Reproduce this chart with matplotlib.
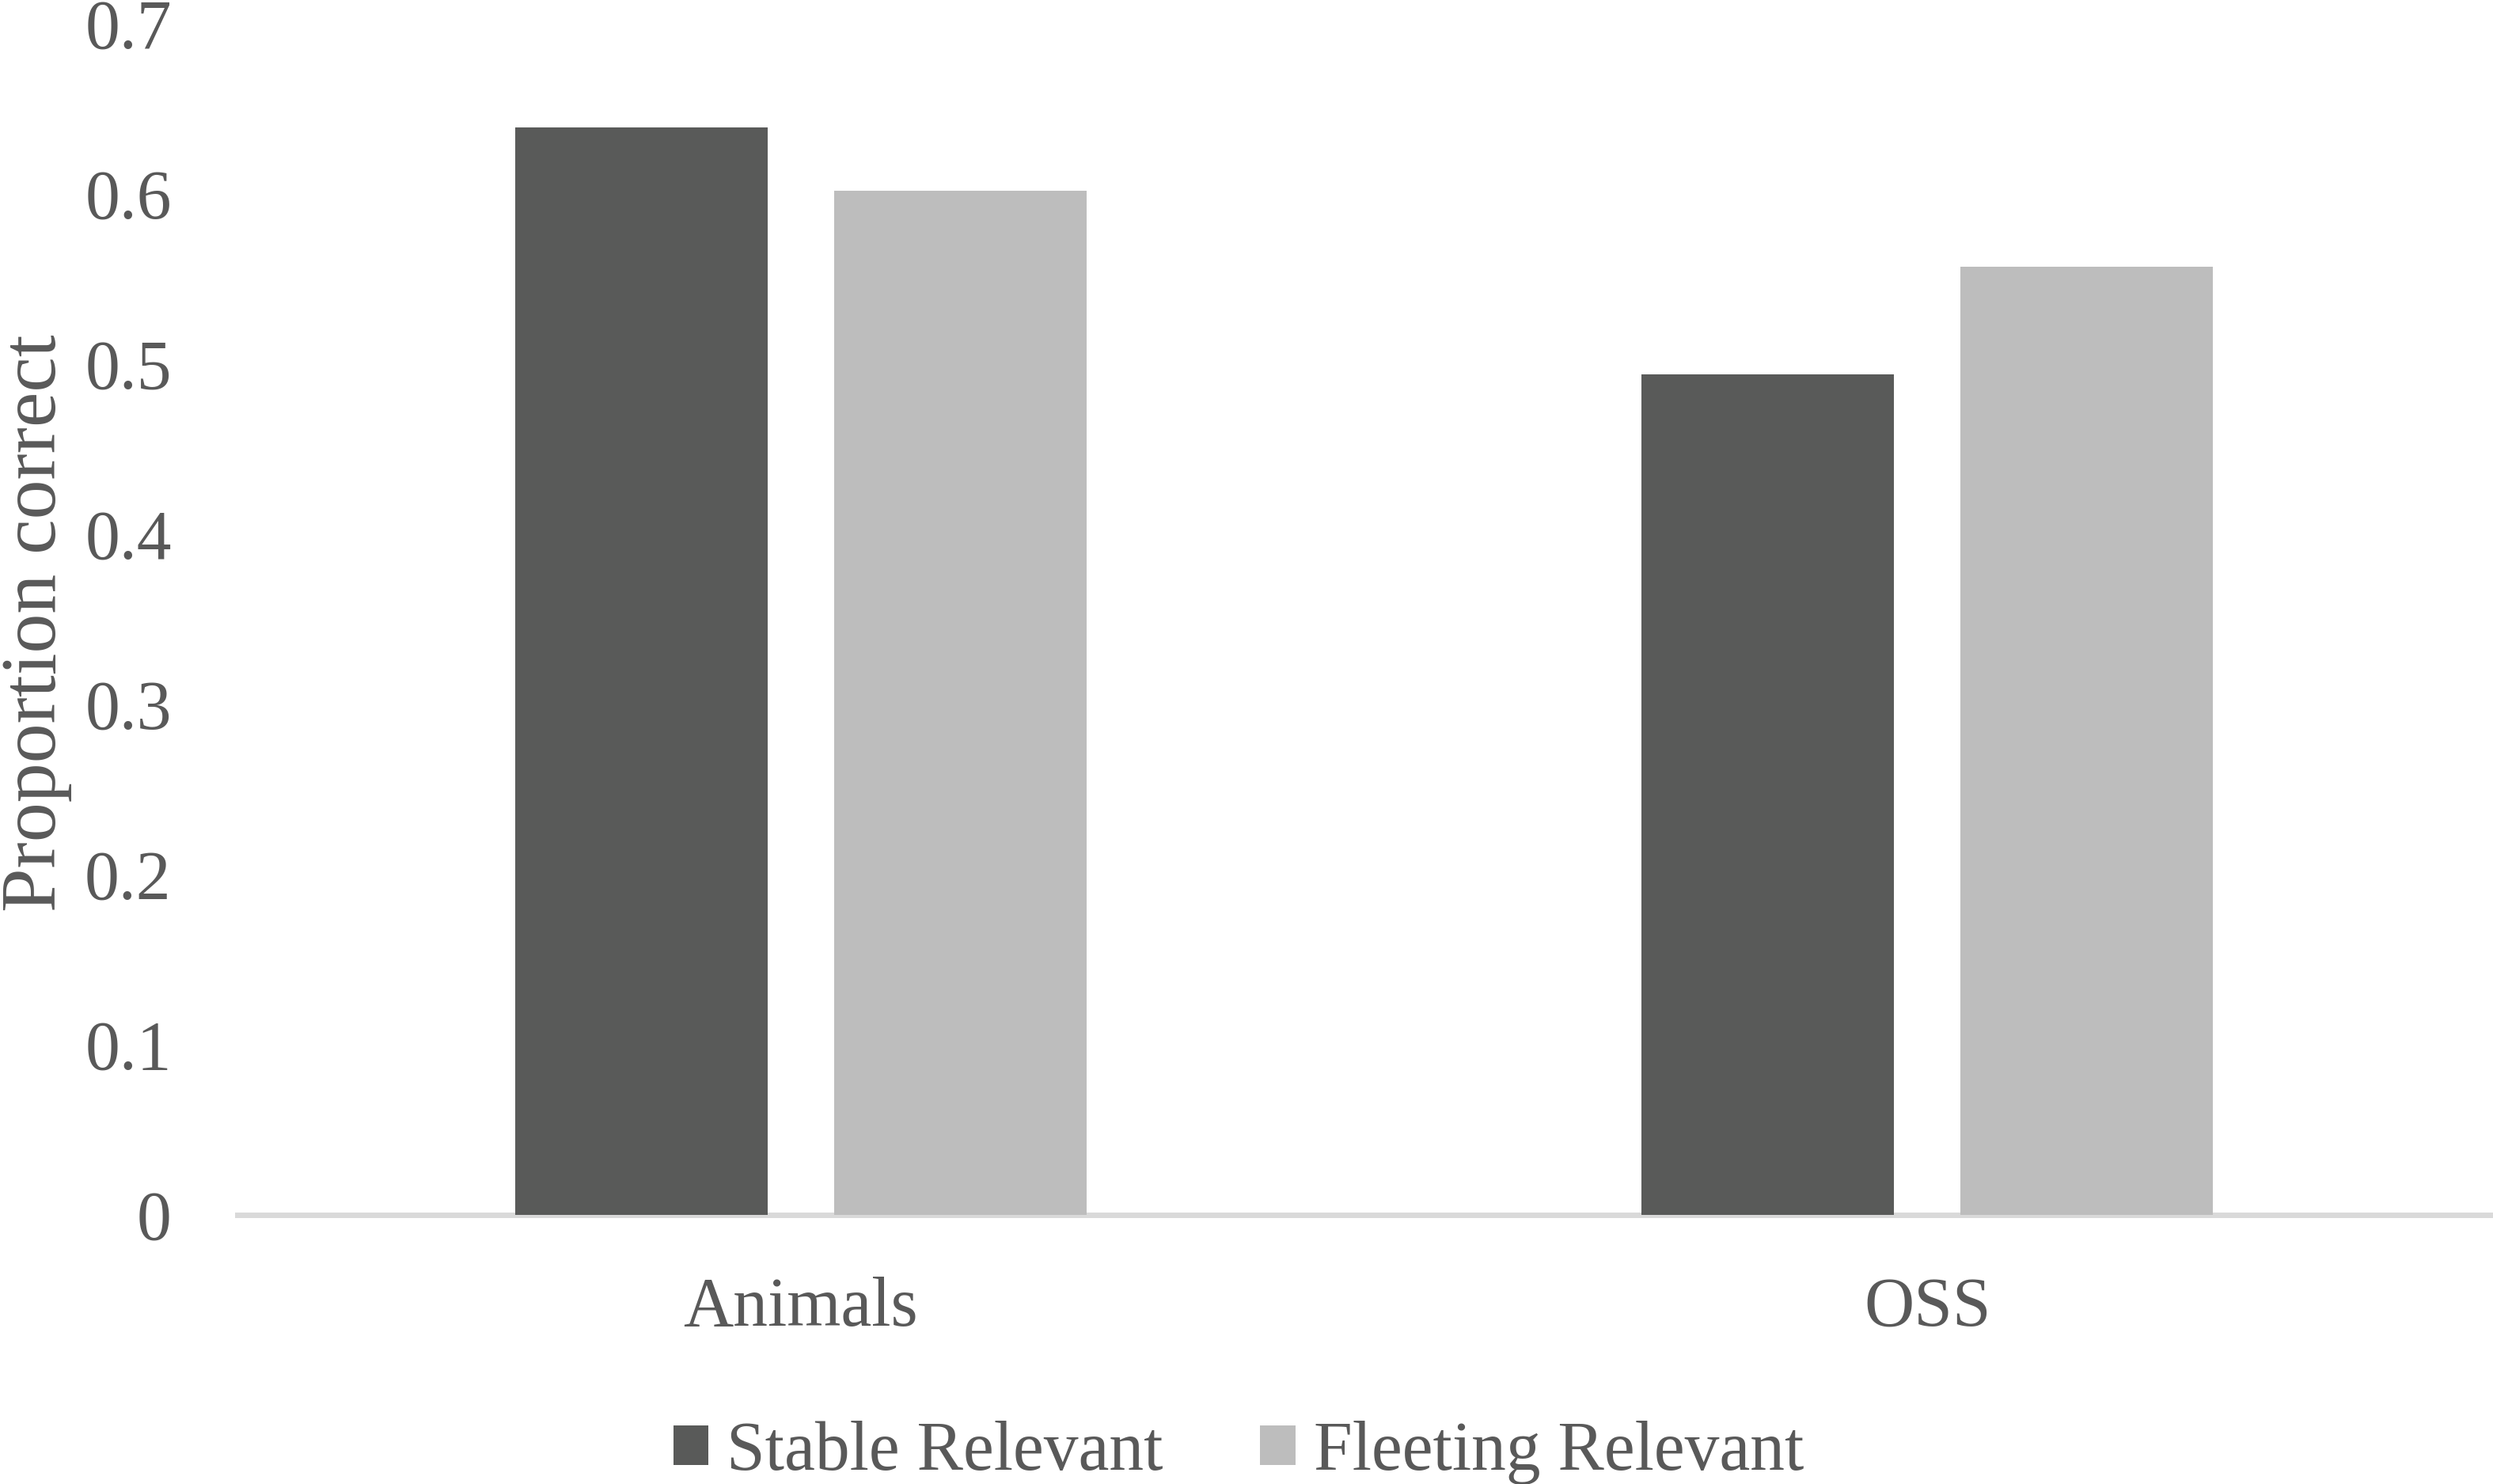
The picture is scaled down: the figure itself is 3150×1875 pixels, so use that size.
import matplotlib
matplotlib.use("Agg")
import matplotlib.pyplot as plt
import numpy as np

categories = ["Animals", "OSS"]
series_names = ["Stable Relevant", "Fleeting Relevant"]
stable_relevant = [0.639, 0.494]
fleeting_relevant = [0.602, 0.557]
y_ticks = [0, 0.1, 0.2, 0.3, 0.4, 0.5, 0.6, 0.7]
y_tick_labels = ["0", "0.1", "0.2", "0.3", "0.4", "0.5", "0.6", "0.7"]

TEXT = "#595959"
DARK = "#595a59"
LIGHT = "#bdbdbd"
FS = 63

plt.rcParams["font.family"] = ["Liberation Serif", "DejaVu Serif"]

fig = plt.figure(figsize=(31.5, 18.75), dpi=100)
ax = fig.add_axes([300 / 3150, 1 - 1535 / 1875, 2850 / 3150, (1535 - 30) / 1875])

x = np.arange(len(categories))
w = 0.224
off = 0.1415
ax.bar(x - off, stable_relevant, width=w, color=DARK, label=series_names[0], zorder=2)
ax.bar(x + off, fleeting_relevant, width=w, color=LIGHT, label=series_names[1], zorder=2)

ax.set_xlim(-0.5, 1.502)
ax.set_ylim(0, 0.7)
ax.set_yticks(y_ticks)
ax.set_yticklabels(y_tick_labels)
ax.set_xticks(x)
ax.set_xticklabels(categories)

for s in ["top", "right", "left"]:
    ax.spines[s].set_visible(False)
ax.spines["bottom"].set_color("#d9d9d9")
ax.spines["bottom"].set_linewidth(5)
ax.spines["bottom"].set_zorder(1)

ax.tick_params(axis="y", length=0, pad=60, labelsize=FS, labelcolor=TEXT)
ax.tick_params(axis="x", length=0, pad=56, labelsize=FS, labelcolor=TEXT)

fig.text(1 / 3150, 1 - 787 / 1875, "Proportion correct", rotation=90,
         ha="left", va="center", fontsize=72, color=TEXT)

leg = fig.legend(loc="center", bbox_to_anchor=(0.4968, 0.021), ncol=2, frameon=False,
                 fontsize=FS, handlelength=0.51, handleheight=0.51,
                 handletextpad=0.26, columnspacing=1.40, borderpad=0, borderaxespad=0)
for t in leg.get_texts():
    t.set_color(TEXT)

fig.savefig("out.png", dpi=100)
